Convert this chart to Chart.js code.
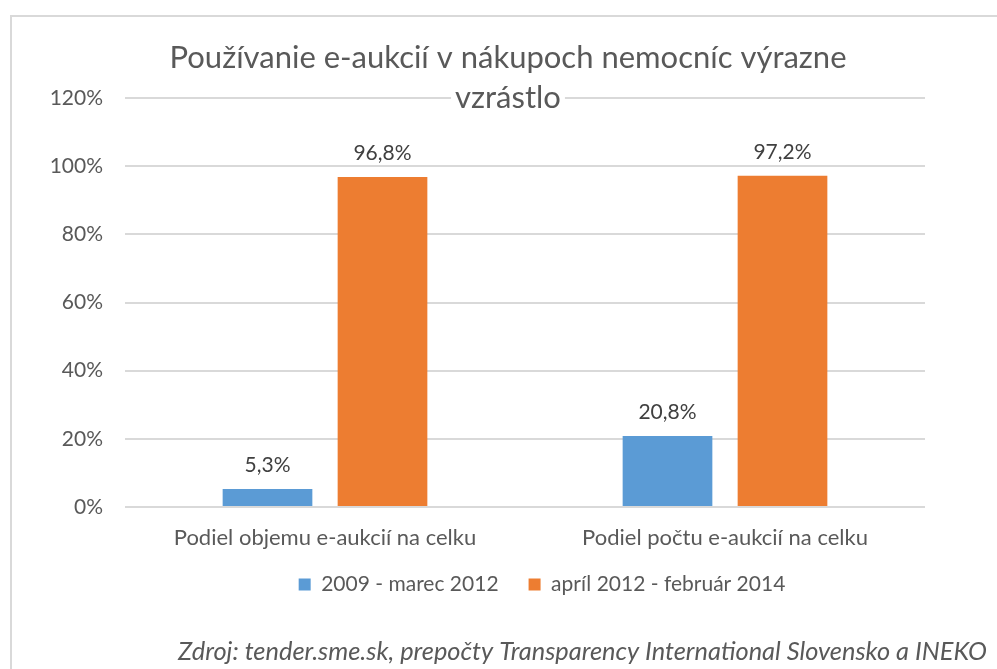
<!DOCTYPE html>
<html lang="sk">
<head>
<meta charset="utf-8">
<title>Používanie e-aukcií</title>
<script src="https://cdn.jsdelivr.net/npm/chart.js@4/dist/chart.umd.min.js"></script>
<style>
  html, body { margin: 0; padding: 0; background: #ffffff; overflow: hidden; }
  #frame {
    position: absolute; left: 10px; top: 15px;
    width: 1000px; height: 700px;
    border: 2px solid #d9d9d9;
  }
  #chart { position: absolute; left: 0; top: 0; }
</style>
</head>
<body>
<div id="frame"></div>
<canvas id="chart" width="997" height="669"></canvas>
<script>
// Dáta grafu
const categories = ['Podiel objemu e-aukcií na celku', 'Podiel počtu e-aukcií na celku'];
const seriesNames = ['2009 - marec 2012', 'apríl 2012 - február 2014'];
const period1 = [5.3, 20.8];
const period2 = [96.8, 97.2];
const yTicks = [0, 20, 40, 60, 80, 100, 120];
const titleLines = ['Používanie e-aukcií v nákupoch nemocníc výrazne', 'vzrástlo'];
const sourceText = 'Zdroj: tender.sme.sk, prepočty Transparency International Slovensko a INEKO';

const textColor = '#595959';
const fontFamily = 'Lato, sans-serif';
const titleSize = 31;

// Posun titulku a legendy (Excel ich necentruje presne nad grafom)
const shiftBoxes = {
    id: 'shiftBoxes',
    afterLayout(chart) {
        const t = chart.titleBlock;
        if (t) { t.left -= 17; t.right -= 17; }
        const l = chart.legend;
        if (l) {
            l.left += 17; l.right += 17;
            l.top -= 13; l.bottom -= 13;
        }
    }
};

// Titulok s bielym pozadím cez mriežku + zdroj dole
const titleAndSource = {
    id: 'titleAndSource',
    afterDraw(chart) {
        const ctx = chart.ctx;
        const t = chart.titleBlock;
        if (t) {
            ctx.save();
            ctx.font = titleSize + 'px ' + fontFamily;
            const cx = (t.left + t.right) / 2;
            titleLines.forEach((line, i) => {
                const w = ctx.measureText(line).width;
                const y = t.top + 38 + 20 + i * 40;
                ctx.fillStyle = '#ffffff';
                ctx.fillRect(cx - w / 2 - 4, y - 16, w + 8, 32);
            });
            ctx.restore();
            t.draw();
        }
        ctx.save();
        ctx.font = 'italic 25.4px ' + fontFamily;
        ctx.fillStyle = textColor;
        ctx.textAlign = 'right';
        ctx.textBaseline = 'alphabetic';
        ctx.fillText(sourceText, chart.width - 10, 660);
        ctx.restore();
    }
};

// Popisky hodnôt nad stĺpcami
const valueLabels = {
    id: 'valueLabels',
    afterDatasetsDraw(chart) {
        const ctx = chart.ctx;
        ctx.save();
        ctx.font = '21px ' + fontFamily;
        ctx.fillStyle = '#404040';
        ctx.textAlign = 'center';
        ctx.textBaseline = 'alphabetic';
        chart.data.datasets.forEach((ds, di) => {
            chart.getDatasetMeta(di).data.forEach((bar, i) => {
                const txt = ds.data[i].toFixed(1).replace('.', ',') + '%';
                ctx.fillText(txt, bar.x, bar.y - 17);
            });
        });
        ctx.restore();
    }
};

const ctx = document.getElementById('chart');
new Chart(ctx, {
    type: 'bar',
    data: {
        labels: categories,
        datasets: [{
            label: seriesNames[0],
            data: period1,
            backgroundColor: '#5b9bd5',
            categoryPercentage: 0.575,
            barPercentage: 0.78
        }, {
            label: seriesNames[1],
            data: period2,
            backgroundColor: '#ed7d31',
            categoryPercentage: 0.575,
            barPercentage: 0.78
        }]
    },
    options: {
        responsive: false,
        animation: false,
        layout: {
            padding: { left: 0, right: 72, top: 0, bottom: 51 }
        },
        plugins: {
            title: {
                display: true,
                fullSize: false,
                text: titleLines,
                color: textColor,
                font: { family: fontFamily, size: titleSize, weight: 'normal', lineHeight: '40px' },
                padding: { top: 38, bottom: -20 }
            },
            legend: {
                display: true,
                position: 'bottom',
                fullSize: false,
                labels: {
                    color: textColor,
                    font: { family: fontFamily, size: 21 },
                    boxWidth: 12,
                    boxHeight: 12,
                    padding: 30
                }
            },
            tooltip: { enabled: false }
        },
        scales: {
            x: {
                grid: { display: false },
                border: { display: false },
                ticks: {
                    color: textColor,
                    font: { family: fontFamily, size: 22 },
                    padding: 10
                },
                afterFit(scale) { scale.height = 50; }
            },
            y: {
                min: 0,
                max: 120,
                afterBuildTicks(scale) {
                    scale.ticks = yTicks.map(v => ({ value: v }));
                },
                grid: { color: '#d9d9d9', lineWidth: 2, drawTicks: false },
                border: { display: false },
                ticks: {
                    color: textColor,
                    font: { family: fontFamily, size: 21 },
                    padding: 22,
                    callback: function(value) { return value + '%'; }
                },
                afterFit(scale) { scale.width = 125; }
            }
        }
    },
    plugins: [shiftBoxes, valueLabels, titleAndSource]
});
</script>
</body>
</html>
